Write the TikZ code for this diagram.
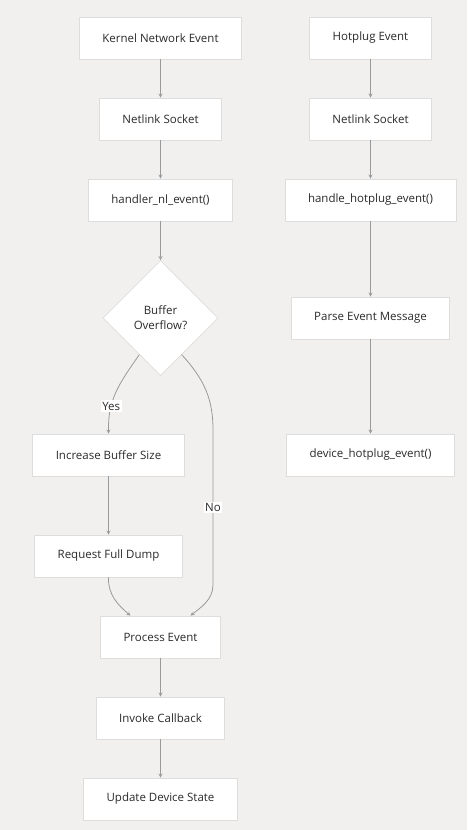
\documentclass[tikz,border=0pt]{standalone}
\usepackage{fontspec}
\setmainfont{Open Sans}
\usetikzlibrary{shapes.geometric}
\definecolor{bgcol}{HTML}{F2F0EF}
\definecolor{boxline}{HTML}{DDDDDD}
\definecolor{edgecol}{HTML}{999999}
\definecolor{textcol}{HTML}{2A2A2A}
\begin{document}
\begin{tikzpicture}[x=1pt, y=1pt, node distance=81pt, font=\fontsize{11.5}{15}\selectfont, text=textcol]
    % Define styles
    \tikzstyle{process} = [rectangle, minimum height=42pt, inner xsep=23pt, text centered, draw=boxline, fill=white, line width=0.8pt]
    \tikzstyle{decision} = [diamond, aspect=1, minimum width=115pt, minimum height=115pt, inner sep=0pt, align=center, draw=boxline, fill=white, line width=0.8pt]
    \tikzstyle{arrow} = [->, >=stealth, draw=edgecol, line width=0.8pt]
    \tikzstyle{label} = [fill=white, inner sep=1.5pt]

    % Background
    \fill[bgcol] (0,0) rectangle (467,-830);
    \useasboundingbox (0,0) rectangle (467,-830);

    % Place nodes, left column
    \node (kernel) [process] at (160.5,-38) {Kernel Network Event};
    \node (nlsock) [process, below of=kernel] {Netlink Socket};
    \node (nlevent) [process, below of=nlsock] {handler\_nl\_event()};
    \node (overflow) [decision, below of=nlevent, yshift=-37pt] {Buffer\\Overflow?};
    \node (increase) [process, below of=overflow, xshift=-52pt, yshift=-56pt] {Increase Buffer Size};
    \node (dump) [process, below of=increase, yshift=-20pt] {Request Full Dump};
    \node (procev) [process, below of=dump, xshift=52pt] {Process Event};
    \node (callback) [process, below of=procev] {Invoke Callback};
    \node (update) [process, below of=callback] {Update Device State};

    % Place nodes, right column
    \node (hotplug) [process] at (370.5,-38) {Hotplug Event};
    \node (hpsock) [process, below of=hotplug] {Netlink Socket};
    \node (hpevent) [process, below of=hpsock] {handle\_hotplug\_event()};
    \node (parse) [process, below of=hpevent, yshift=-37pt] {Parse Event Message};
    \node (devhp) [process, below of=parse, yshift=-56pt] {device\_hotplug\_event()};

    % Draw arrows
    \draw [arrow] (kernel) -- (nlsock);
    \draw [arrow] (nlsock) -- (nlevent);
    \draw [arrow] (nlevent) -- (overflow);
    \draw [arrow] (overflow.-120) .. controls (118,-385) and (108,-400) .. node[label, pos=0.68] {Yes} (increase.north);
    \draw [arrow] (overflow.-60) .. controls (205,-380) and (213,-400) .. (213,-430) -- node[label] {No} (213,-585) .. controls (213,-600) and (200,-608) .. ([xshift=30pt]procev.north);
    \draw [arrow] (increase) -- (dump);
    \draw [arrow] (dump.south) .. controls (108,-595) and (118,-605) .. ([xshift=-30pt]procev.north);
    \draw [arrow] (procev) -- (callback);
    \draw [arrow] (callback) -- (update);

    \draw [arrow] (hotplug) -- (hpsock);
    \draw [arrow] (hpsock) -- (hpevent);
    \draw [arrow] (hpevent) -- (parse);
    \draw [arrow] (parse) -- (devhp);
\end{tikzpicture}
\end{document}
